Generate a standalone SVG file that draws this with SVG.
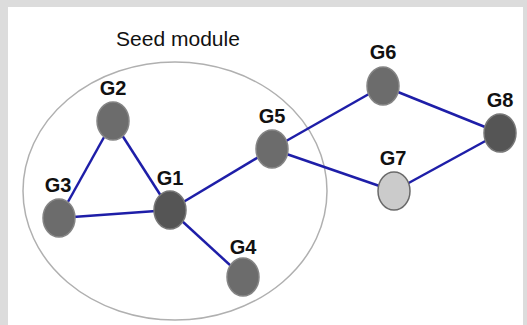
<svg xmlns="http://www.w3.org/2000/svg" width="527" height="325" viewBox="0 0 527 325">
<style>
.lbl{font-family:"Liberation Sans",Arial,sans-serif;font-weight:bold;font-size:20px;fill:#111;text-anchor:middle}
.title{font-family:"Liberation Sans",Arial,sans-serif;font-size:21px;fill:#111;text-anchor:middle}
.edge{stroke:#1e1ea8;stroke-width:2.5;fill:none}
.n{fill:#6c6c6c;stroke:#858585;stroke-width:1.5}
.nd{fill:#555;stroke:#777;stroke-width:1.5}
.nl{fill:#cbcbcb;stroke:#6a6a6a;stroke-width:1.5}
</style>
<rect x="0" y="0" width="527" height="325" fill="#dcdcdc"/>
<rect x="8" y="7" width="515" height="318" fill="#ffffff"/>
<g id="module">
<ellipse cx="175" cy="191" rx="152" ry="129" fill="none" stroke="#b0b0b0" stroke-width="1.5"/>
<text class="title" x="178" y="46">Seed module</text>
</g>
<g id="connectors">
<line class="edge" x1="113" y1="121" x2="59" y2="218"/>
<line class="edge" x1="113" y1="121" x2="170" y2="210"/>
<line class="edge" x1="59" y1="218" x2="170" y2="210"/>
<line class="edge" x1="170" y1="210" x2="243" y2="277"/>
<line class="edge" x1="170" y1="210" x2="272" y2="149"/>
<line class="edge" x1="272" y1="149" x2="383" y2="86"/>
<line class="edge" x1="272" y1="149" x2="394" y2="191"/>
<line class="edge" x1="383" y1="86" x2="500" y2="133"/>
<line class="edge" x1="394" y1="191" x2="500" y2="133"/>
</g>
<g id="G1"><ellipse class="nd" cx="170" cy="210" rx="16" ry="19"/><text class="lbl" x="170" y="185">G1</text></g>
<g id="G2"><ellipse class="n" cx="113" cy="121" rx="16" ry="19"/><text class="lbl" x="113" y="95">G2</text></g>
<g id="G3"><ellipse class="n" cx="59" cy="218" rx="16" ry="19"/><text class="lbl" x="58" y="192">G3</text></g>
<g id="G4"><ellipse class="n" cx="243" cy="277" rx="16" ry="19"/><text class="lbl" x="243" y="254">G4</text></g>
<g id="G5"><ellipse class="n" cx="272" cy="149" rx="16" ry="19"/><text class="lbl" x="272" y="123">G5</text></g>
<g id="G6"><ellipse class="n" cx="383" cy="86" rx="16" ry="19"/><text class="lbl" x="383" y="59">G6</text></g>
<g id="G7"><ellipse class="nl" cx="394" cy="191" rx="16" ry="19"/><text class="lbl" x="393" y="165">G7</text></g>
<g id="G8"><ellipse class="nd" cx="500" cy="133" rx="16" ry="19"/><text class="lbl" x="500" y="107">G8</text></g>
</svg>
